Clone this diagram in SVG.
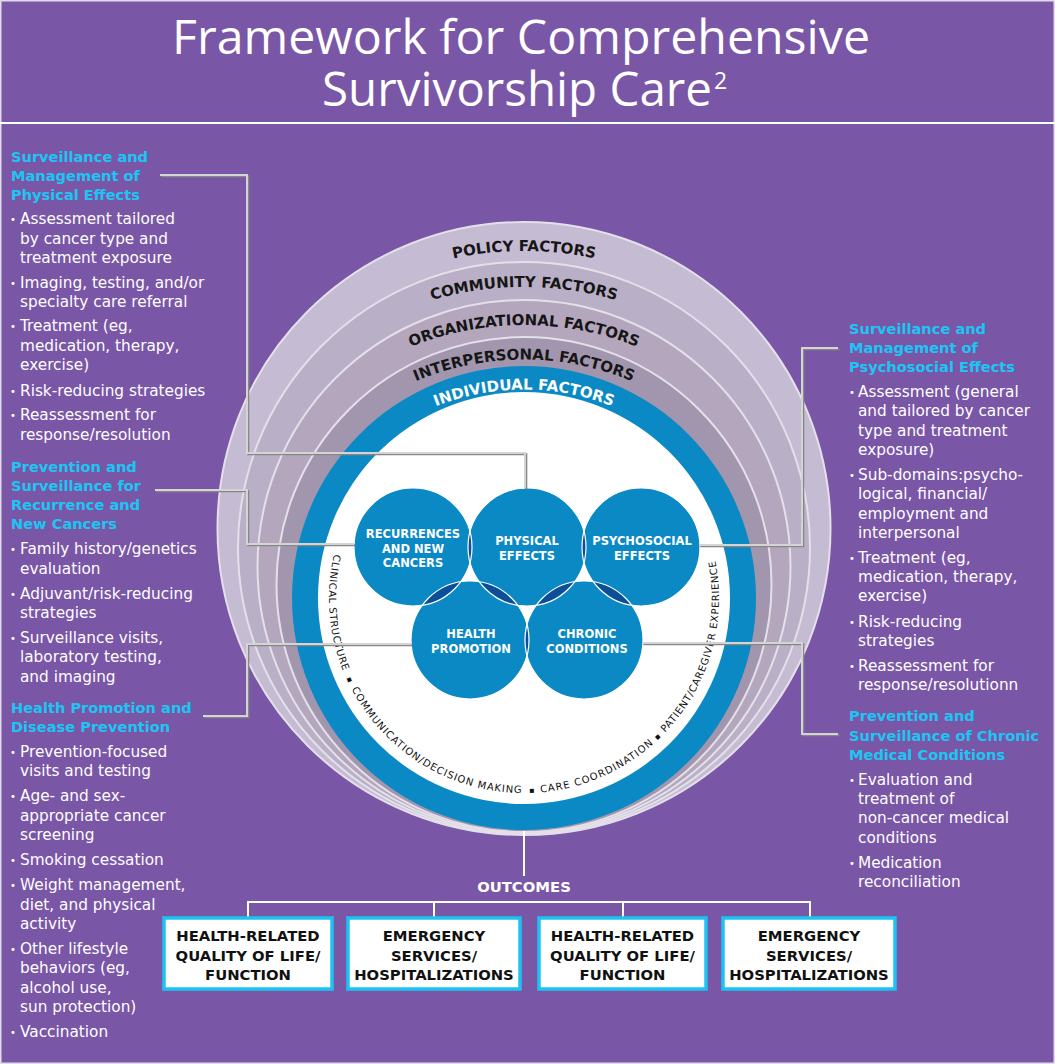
<svg xmlns="http://www.w3.org/2000/svg" xmlns:xlink="http://www.w3.org/1999/xlink" width="1055" height="1064" viewBox="0 0 1055 1064">
<style>
.title{font-family:"Open Sans","DejaVu Sans",sans-serif;font-size:47px;fill:#fff}
.h{font-family:"DejaVu Sans","Liberation Sans",sans-serif;font-weight:bold;font-size:14.6px;fill:#1CC6F4}
.b{font-family:"DejaVu Sans","Liberation Sans",sans-serif;font-size:15.3px;fill:#fff}
.bu{font-family:"DejaVu Sans",sans-serif;font-size:10px;fill:#fff}
.ven{font-family:"DejaVu Sans","Liberation Sans",sans-serif;font-weight:bold;font-size:11.5px;fill:#fff;text-anchor:middle}
.fac{font-family:"DejaVu Sans","Liberation Sans",sans-serif;font-weight:bold;font-size:15px;fill:#161616}
.inner{font-family:"DejaVu Sans","Liberation Sans",sans-serif;font-size:10px;fill:#111}
.sq{font-family:"DejaVu Sans",sans-serif;font-size:8px;fill:#111}
.out{font-family:"DejaVu Sans","Liberation Sans",sans-serif;font-weight:bold;font-size:14.8px;fill:#111;text-anchor:middle}
.ring{stroke:#E4E0EA;stroke-width:2}
.vc{fill:#0A89C5}
.lens{fill:#0C4E97}
.vo{fill:none;stroke:#fff;stroke-width:1.2}
.cs{fill:none;stroke:#878787;stroke-width:2}
.cm{fill:none;stroke:#D4D4D4;stroke-width:2}
.wl{fill:none;stroke:#fff;stroke-width:2}
.box{fill:#fff;stroke:#1BC3F2;stroke-width:3.5}
</style>
<defs>
<clipPath id="cR"><circle cx="413" cy="547" r="59"/></clipPath>
<clipPath id="cP"><circle cx="527" cy="547" r="59"/></clipPath>
<clipPath id="cS"><circle cx="641" cy="547" r="59"/></clipPath>
<clipPath id="cH"><circle cx="470" cy="640" r="59"/></clipPath>
<path id="pPolicy" d="M229.56,421 A340,340 0 0 1 818.44,421"/>
<path id="pCommunity" d="M238.22,452 A330,330 0 0 1 809.78,452"/>
<path id="pOrg" d="M259.87,477.5 A305,305 0 0 1 788.13,477.5"/>
<path id="pInter" d="M281.52,499.5 A280,280 0 0 1 766.48,499.5"/>
<path id="pIndiv" d="M316.16,509.5 A240,240 0 0 1 731.84,509.5"/>
<path id="pInner" d="M334,554.1 A195,195 0 1 0 714.7,557.5"/>
</defs>

<rect x="0" y="0" width="1055" height="1064" fill="#7A56A7"/>
<rect x="0.75" y="0.75" width="1053.5" height="1062.5" fill="none" stroke="#E2DCEA" stroke-width="1.5"/>
<line x1="0" y1="123" x2="1055" y2="123" stroke="#fff" stroke-width="2"/>

<g id="title">
<text class="title" x="172" y="54" textLength="698" lengthAdjust="spacingAndGlyphs">Framework for Comprehensive</text>
<text class="title" x="322" y="106" textLength="390" lengthAdjust="spacingAndGlyphs">Survivorship Care</text>
<text class="title" x="714" y="89" style="font-size:23px">2</text>
</g>

<g id="rings">
<g id="policy-factors"><circle class="ring" cx="524" cy="528.5" r="306.5" fill="#C5BBD2"/></g>
<g id="community-factors"><circle class="ring" cx="524" cy="548" r="286" fill="#B9AFC6"/></g>
<g id="organizational-factors"><circle class="ring" cx="524" cy="566.5" r="266.5" fill="#B4A7BD"/></g>
<g id="interpersonal-factors"><circle class="ring" cx="524" cy="584.5" r="247.5" fill="#A296AE"/></g>
<g id="individual-factors"><circle cx="524" cy="598" r="232" fill="#0B89C4"/></g>
<g id="core"><circle cx="524" cy="598" r="206" fill="#fff"/></g>
<text class="fac"><textPath href="#pPolicy" xlink:href="#pPolicy" startOffset="50%" text-anchor="middle">POLICY FACTORS</textPath></text>
<text class="fac"><textPath href="#pCommunity" xlink:href="#pCommunity" startOffset="50%" text-anchor="middle">COMMUNITY FACTORS</textPath></text>
<text class="fac"><textPath href="#pOrg" xlink:href="#pOrg" startOffset="50%" text-anchor="middle">ORGANIZATIONAL FACTORS</textPath></text>
<text class="fac"><textPath href="#pInter" xlink:href="#pInter" startOffset="50%" text-anchor="middle">INTERPERSONAL FACTORS</textPath></text>
<text class="fac" style="fill:#fff"><textPath href="#pIndiv" xlink:href="#pIndiv" startOffset="50%" text-anchor="middle">INDIVIDUAL FACTORS</textPath></text>
<text class="inner"><textPath href="#pInner" xlink:href="#pInner" startOffset="0" textLength="119" lengthAdjust="spacing">CLINICAL STRUCTURE</textPath></text>
<text class="sq"><textPath href="#pInner" xlink:href="#pInner" startOffset="127">▪</textPath></text>
<text class="inner"><textPath href="#pInner" xlink:href="#pInner" startOffset="139" textLength="209" lengthAdjust="spacing">COMMUNICATION/DECISION MAKING</textPath></text>
<text class="sq"><textPath href="#pInner" xlink:href="#pInner" startOffset="356">▪</textPath></text>
<text class="inner"><textPath href="#pInner" xlink:href="#pInner" startOffset="367" textLength="125" lengthAdjust="spacing">CARE COORDINATION</textPath></text>
<text class="sq"><textPath href="#pInner" xlink:href="#pInner" startOffset="497">▪</textPath></text>
<text class="inner"><textPath href="#pInner" xlink:href="#pInner" startOffset="508" textLength="186" lengthAdjust="spacing">PATIENT/CAREGIVER EXPERIENCE</textPath></text>
</g>

<g id="venn">
<g id="recurrences"><circle class="vc" cx="413" cy="547" r="59"/></g>
<g id="physical"><circle class="vc" cx="527" cy="547" r="59"/></g>
<g id="psychosocial"><circle class="vc" cx="641" cy="547" r="59"/></g>
<g id="health-promotion"><circle class="vc" cx="470" cy="640" r="59"/></g>
<g id="chronic"><circle class="vc" cx="584" cy="640" r="59"/></g>
<circle class="lens" cx="527" cy="547" r="59" clip-path="url(#cR)"/>
<circle class="lens" cx="641" cy="547" r="59" clip-path="url(#cP)"/>
<circle class="lens" cx="470" cy="640" r="59" clip-path="url(#cR)"/>
<circle class="lens" cx="470" cy="640" r="59" clip-path="url(#cP)"/>
<circle class="lens" cx="584" cy="640" r="59" clip-path="url(#cP)"/>
<circle class="lens" cx="584" cy="640" r="59" clip-path="url(#cS)"/>
<circle class="lens" cx="584" cy="640" r="59" clip-path="url(#cH)"/>
<circle class="vo" cx="413" cy="547" r="59"/>
<circle class="vo" cx="527" cy="547" r="59"/>
<circle class="vo" cx="641" cy="547" r="59"/>
<circle class="vo" cx="470" cy="640" r="59"/>
<circle class="vo" cx="584" cy="640" r="59"/>
<text class="ven" x="413" y="538">RECURRENCES</text>
<text class="ven" x="413" y="552.5">AND NEW</text>
<text class="ven" x="413" y="567">CANCERS</text>
<text class="ven" x="527" y="545">PHYSICAL</text>
<text class="ven" x="527" y="560">EFFECTS</text>
<text class="ven" x="642" y="545">PSYCHOSOCIAL</text>
<text class="ven" x="642" y="560">EFFECTS</text>
<text class="ven" x="471" y="638">HEALTH</text>
<text class="ven" x="471" y="652.5">PROMOTION</text>
<text class="ven" x="587" y="638">CHRONIC</text>
<text class="ven" x="587" y="652.5">CONDITIONS</text>
</g>

<g id="connectors">
<g transform="translate(1.3,1.3)">
<path class="cs" d="M160,175 H247 V453 H525 V488"/>
<path class="cs" d="M155,490 H247 V544 H354"/>
<path class="cs" d="M203,716 H247 V644 H411"/>
<path class="cs" d="M699,545 H802 V348 H838"/>
<path class="cs" d="M642,643 H802 V734 H838"/>
</g>
<path class="cm" d="M160,175 H247 V453 H525 V488"/>
<path class="cm" d="M155,490 H247 V544 H354"/>
<path class="cm" d="M203,716 H247 V644 H411"/>
<path class="cm" d="M699,545 H802 V348 H838"/>
<path class="cm" d="M642,643 H802 V734 H838"/>
<path class="wl" d="M524,831 V876"/>
<path class="wl" d="M248,918 V902 H810 V918 M434,902 V918 M623,902 V918"/>
</g>

<g id="left-physical">
<text class="h" x="11" y="162">Surveillance and</text>
<text class="h" x="11" y="181">Management of</text>
<text class="h" x="11" y="200">Physical Effects</text>
<text class="bu" x="10" y="223">•</text><text class="b" x="20" y="224">Assessment tailored</text>
<text class="b" x="20" y="244">by cancer type and</text>
<text class="b" x="20" y="263">treatment exposure</text>
<text class="bu" x="10" y="287">•</text><text class="b" x="20" y="288">Imaging, testing, and/or</text>
<text class="b" x="20" y="307">specialty care referral</text>
<text class="bu" x="10" y="330">•</text><text class="b" x="20" y="331">Treatment (eg,</text>
<text class="b" x="20" y="351">medication, therapy,</text>
<text class="b" x="20" y="370">exercise)</text>
<text class="bu" x="10" y="395">•</text><text class="b" x="20" y="396">Risk-reducing strategies</text>
<text class="bu" x="10" y="419">•</text><text class="b" x="20" y="420">Reassessment for</text>
<text class="b" x="20" y="440">response/resolution</text>
</g>

<g id="left-recurrence">
<text class="h" x="11" y="472">Prevention and</text>
<text class="h" x="11" y="491">Surveillance for</text>
<text class="h" x="11" y="510">Recurrence and</text>
<text class="h" x="11" y="529">New Cancers</text>
<text class="bu" x="10" y="553">•</text><text class="b" x="20" y="554">Family history/genetics</text>
<text class="b" x="20" y="574">evaluation</text>
<text class="bu" x="10" y="598">•</text><text class="b" x="20" y="599">Adjuvant/risk-reducing</text>
<text class="b" x="20" y="618">strategies</text>
<text class="bu" x="10" y="642">•</text><text class="b" x="20" y="643">Surveillance visits,</text>
<text class="b" x="20" y="662">laboratory testing,</text>
<text class="b" x="20" y="682">and imaging</text>
</g>

<g id="left-health">
<text class="h" x="11" y="713">Health Promotion and</text>
<text class="h" x="11" y="732">Disease Prevention</text>
<text class="bu" x="10" y="756">•</text><text class="b" x="20" y="757">Prevention-focused</text>
<text class="b" x="20" y="776">visits and testing</text>
<text class="bu" x="10" y="800">•</text><text class="b" x="20" y="801">Age- and sex-</text>
<text class="b" x="20" y="821">appropriate cancer</text>
<text class="b" x="20" y="840">screening</text>
<text class="bu" x="10" y="864">•</text><text class="b" x="20" y="865">Smoking cessation</text>
<text class="bu" x="10" y="889">•</text><text class="b" x="20" y="890">Weight management,</text>
<text class="b" x="20" y="910">diet, and physical</text>
<text class="b" x="20" y="929">activity</text>
<text class="bu" x="10" y="953">•</text><text class="b" x="20" y="954">Other lifestyle</text>
<text class="b" x="20" y="973">behaviors (eg,</text>
<text class="b" x="20" y="993">alcohol use,</text>
<text class="b" x="20" y="1012">sun protection)</text>
<text class="bu" x="10" y="1036">•</text><text class="b" x="20" y="1037">Vaccination</text>
</g>

<g id="right-psychosocial">
<text class="h" x="849" y="334">Surveillance and</text>
<text class="h" x="849" y="353">Management of</text>
<text class="h" x="849" y="372">Psychosocial Effects</text>
<text class="bu" x="849" y="396">•</text><text class="b" x="858" y="397">Assessment (general</text>
<text class="b" x="858" y="416">and tailored by cancer</text>
<text class="b" x="858" y="436">type and treatment</text>
<text class="b" x="858" y="455">exposure)</text>
<text class="bu" x="849" y="479">•</text><text class="b" x="858" y="480">Sub-domains:psycho-</text>
<text class="b" x="858" y="499">logical, financial/</text>
<text class="b" x="858" y="519">employment and</text>
<text class="b" x="858" y="538">interpersonal</text>
<text class="bu" x="849" y="562">•</text><text class="b" x="858" y="563">Treatment (eg,</text>
<text class="b" x="858" y="582">medication, therapy,</text>
<text class="b" x="858" y="601">exercise)</text>
<text class="bu" x="849" y="626">•</text><text class="b" x="858" y="627">Risk-reducing</text>
<text class="b" x="858" y="646">strategies</text>
<text class="bu" x="849" y="670">•</text><text class="b" x="858" y="671">Reassessment for</text>
<text class="b" x="858" y="690">response/resolutionn</text>
</g>

<g id="right-chronic">
<text class="h" x="849" y="721">Prevention and</text>
<text class="h" x="849" y="741">Surveillance of Chronic</text>
<text class="h" x="849" y="760">Medical Conditions</text>
<text class="bu" x="849" y="784">•</text><text class="b" x="858" y="785">Evaluation and</text>
<text class="b" x="858" y="804">treatment of</text>
<text class="b" x="858" y="823">non-cancer medical</text>
<text class="b" x="858" y="843">conditions</text>
<text class="bu" x="849" y="867">•</text><text class="b" x="858" y="868">Medication</text>
<text class="b" x="858" y="887">reconciliation</text>
</g>

<g id="outcomes">
<text class="out" x="524" y="892" style="fill:#fff">OUTCOMES</text>
<g id="outcome-1"><rect class="box" x="164" y="918" width="168" height="71"/>
<text class="out" x="248" y="941">HEALTH-RELATED</text><text class="out" x="248" y="960.5">QUALITY OF LIFE/</text><text class="out" x="248" y="980">FUNCTION</text></g>
<g id="outcome-2"><rect class="box" x="348" y="918" width="172" height="71"/>
<text class="out" x="434" y="941">EMERGENCY</text><text class="out" x="434" y="960.5">SERVICES/</text><text class="out" x="434" y="980">HOSPITALIZATIONS</text></g>
<g id="outcome-3"><rect class="box" x="539" y="918" width="167" height="71"/>
<text class="out" x="622.5" y="941">HEALTH-RELATED</text><text class="out" x="622.5" y="960.5">QUALITY OF LIFE/</text><text class="out" x="622.5" y="980">FUNCTION</text></g>
<g id="outcome-4"><rect class="box" x="723" y="918" width="172" height="71"/>
<text class="out" x="809" y="941">EMERGENCY</text><text class="out" x="809" y="960.5">SERVICES/</text><text class="out" x="809" y="980">HOSPITALIZATIONS</text></g>
</g>
</svg>
